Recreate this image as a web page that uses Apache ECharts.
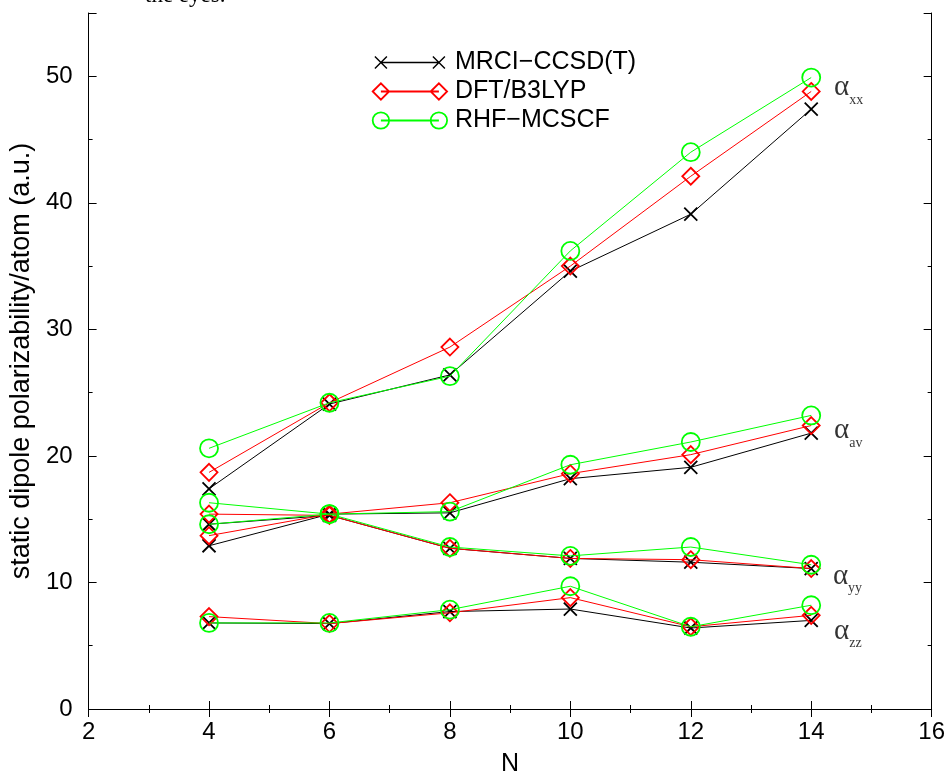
<!DOCTYPE html>
<html>
<head>
<meta charset="utf-8">
<script src="https://cdn.jsdelivr.net/npm/echarts@6/dist/echarts.min.js"></script>
<style>
html,body{margin:0;padding:0;background:#fff;}
#chart{width:948px;height:782px;}
</style>
</head>
<body>
<div id="chart"></div>
<script>
// ---- data ----
const N = [4, 6, 8, 10, 12, 14];
const methods = ['MRCI\u2212CCSD(T)', 'DFT/B3LYP', 'RHF\u2212MCSCF'];

const mrci_xx = [17.4, 24.1, 26.4, 34.6, 39.1, 47.4];
const dft_xx  = [18.7, 24.2, 28.6, 35.0, 42.1, 48.8];
const rhf_xx  = [20.6, 24.2, 26.3, 36.2, 44.0, 49.9];

const mrci_av = [12.9, 15.4, 15.5, 18.2, 19.1, 21.8];
const dft_av  = [13.7, 15.4, 16.3, 18.6, 20.1, 22.4];
const rhf_av  = [14.6, 15.4, 15.6, 19.3, 21.1, 23.2];

const mrci_yy = [14.6, 15.3, 12.7, 11.9, 11.6, 11.1];
const dft_yy  = [15.4, 15.3, 12.7, 11.9, 11.8, 11.1];
const rhf_yy  = [16.3, 15.4, 12.8, 12.1, 12.8, 11.4];

const mrci_zz = [6.8, 6.75, 7.7, 7.9, 6.4, 7.0];
const dft_zz  = [7.3, 6.75, 7.6, 8.8, 6.5, 7.4];
const rhf_zz  = [6.8, 6.8, 7.85, 9.7, 6.5, 8.2];

const xTicks = [2, 4, 6, 8, 10, 12, 14, 16];
const yTicks = [0, 10, 20, 30, 40, 50];

// component labels (anchor in data coords)
const annText = ['xx', 'av', 'yy', 'zz'];
const annX = [14.38, 14.38, 14.36, 14.38];
const annY = [48.9, 21.8, 10.3, 5.95];

// ---- styles ----
const colors = ['#000000', '#ff0000', '#00ff00'];
const symbols = ['path://M0,0L10,10M10,0L0,10', 'diamond', 'circle'];
const symbolSizes = [13, 17, 18];
const legendIcons = [
  'path://M0,0M76,18M3,3L15,15M15,3L3,15M9,9L67,9M61,3L73,15M73,3L61,15',
  'path://M0,0M76,18M0.8,9L9,0.8L17.2,9L9,17.2ZM9,9L67,9M58.8,9L67,0.8L75.2,9L67,17.2Z',
  'path://M0,0M76,18M0.8,9A8.2,8.2 0 1 1 17.2,9A8.2,8.2 0 1 1 0.8,9ZM9,9L67,9M58.8,9A8.2,8.2 0 1 1 75.2,9A8.2,8.2 0 1 1 58.8,9Z'
];

const groups = [
  [mrci_xx, mrci_av, mrci_yy, mrci_zz],
  [dft_xx, dft_av, dft_yy, dft_zz],
  [rhf_xx, rhf_av, rhf_yy, rhf_zz]
];

const series = [];
groups.forEach((g, m) => {
  g.forEach(vals => {
    series.push({
      type: 'line',
      name: methods[m],
      data: N.map((n, i) => [n, vals[i]]),
      symbol: symbols[m],
      symbolSize: symbolSizes[m],
      showAllSymbol: true,
      color: colors[m],
      lineStyle: { color: colors[m], width: 1 },
      itemStyle: { color: 'rgba(0,0,0,0)', borderColor: colors[m], borderWidth: 1.8 },
      emphasis: { disabled: true },
      animation: false,
      z: 2 + m
    });
  });
});

series.push({
  type: 'scatter',
  name: 'labels',
  data: annX.map((x, i) => [x, annY[i], annText[i]]),
  symbolSize: 0,
  silent: true,
  animation: false,
  label: {
    show: true,
    position: 'right',
    distance: 0,
    formatter: p => '{a|\u03b1}{s|' + p.data[2] + '}',
    rich: {
      a: { fontFamily: 'Liberation Serif', fontSize: 29, color: '#000', padding: [0, 0, 5, 0] },
      s: { fontFamily: 'Liberation Serif', fontSize: 14, color: '#000', verticalAlign: 'bottom', lineHeight: 14 }
    }
  }
});

const axisLine = { show: true, lineStyle: { color: '#000', width: 1 } };
const fontFam = 'Liberation Sans, Arial, sans-serif';

const option = {
  backgroundColor: '#fff',
  animation: false,
  grid: { left: 84, right: 16, top: 13, bottom: 67, containLabel: false },
  legend: {
    orient: 'vertical',
    left: 366,
    top: 45,
    itemWidth: 76,
    itemHeight: 18,
    itemGap: 4,
    selectedMode: false,
    textStyle: { fontFamily: fontFam, fontSize: 25, color: '#000', lineHeight: 25, padding: [0, 0, 0, 2] },
    data: methods.map((name, m) => ({
      name: name,
      icon: legendIcons[m],
      itemStyle: { color: 'rgba(0,0,0,0)', borderColor: colors[m], borderWidth: m === 0 ? 1.4 : 1.8 }
    }))
  },
  graphic: [{
    type: 'text',
    left: 145,
    top: -16,
    style: { text: 'the eyes.', fontFamily: 'Liberation Serif', fontSize: 23, fill: '#000' }
  }],
  xAxis: [{
    type: 'value', min: xTicks[0], max: xTicks[xTicks.length - 1], interval: 2,
    position: 'bottom',
    name: 'N', nameLocation: 'middle', nameGap: 43,
    nameTextStyle: { fontFamily: fontFam, fontSize: 25, color: '#000' },
    axisLine: axisLine,
    axisTick: { show: true, inside: true, length: 8, lineStyle: { color: '#000' } },
    minorTick: { show: true, splitNumber: 2, length: 4, lineStyle: { color: '#000' } },
    axisLabel: { fontFamily: fontFam, fontSize: 24, color: '#000', margin: 11 },
    splitLine: { show: false }, minorSplitLine: { show: false }
  }, {
    type: 'value', min: xTicks[0], max: xTicks[xTicks.length - 1], interval: 2,
    position: 'top',
    axisLine: axisLine,
    axisTick: { show: true, inside: true, length: 8, lineStyle: { color: '#000' } },
    minorTick: { show: true, splitNumber: 2, length: 4, lineStyle: { color: '#000' } },
    axisLabel: { show: false },
    splitLine: { show: false }
  }],
  yAxis: [{
    type: 'value', min: 0, max: 55, interval: 10,
    position: 'left',
    name: 'static dipole polarizability/atom (a.u.)',
    nameLocation: 'middle', nameGap: 52, nameRotate: 90,
    nameTextStyle: { fontFamily: fontFam, fontSize: 27, color: '#000' },
    axisLine: axisLine,
    axisTick: { show: true, inside: true, length: 8, lineStyle: { color: '#000' } },
    axisLabel: { fontFamily: fontFam, fontSize: 24, color: '#000', margin: 16,
      formatter: v => (yTicks.indexOf(v) >= 0 ? String(v) : '') },
    splitLine: { show: false }
  }, {
    type: 'value', min: 0, max: 55, interval: 5,
    position: 'left',
    axisLine: { show: false },
    axisTick: { show: true, inside: true, length: 4, lineStyle: { color: '#000' } },
    axisLabel: { show: false },
    splitLine: { show: false }
  }, {
    type: 'value', min: 0, max: 55, interval: 10,
    position: 'right',
    axisLine: axisLine,
    axisTick: { show: true, inside: true, length: 8, lineStyle: { color: '#000' } },
    axisLabel: { show: false },
    splitLine: { show: false }
  }, {
    type: 'value', min: 0, max: 55, interval: 5,
    position: 'right',
    axisLine: { show: false },
    axisTick: { show: true, inside: true, length: 4, lineStyle: { color: '#000' } },
    axisLabel: { show: false },
    splitLine: { show: false }
  }],
  series: series
};

const chart = echarts.init(document.getElementById('chart'), null, { renderer: 'canvas' });
chart.setOption(option);
</script>
</body>
</html>
